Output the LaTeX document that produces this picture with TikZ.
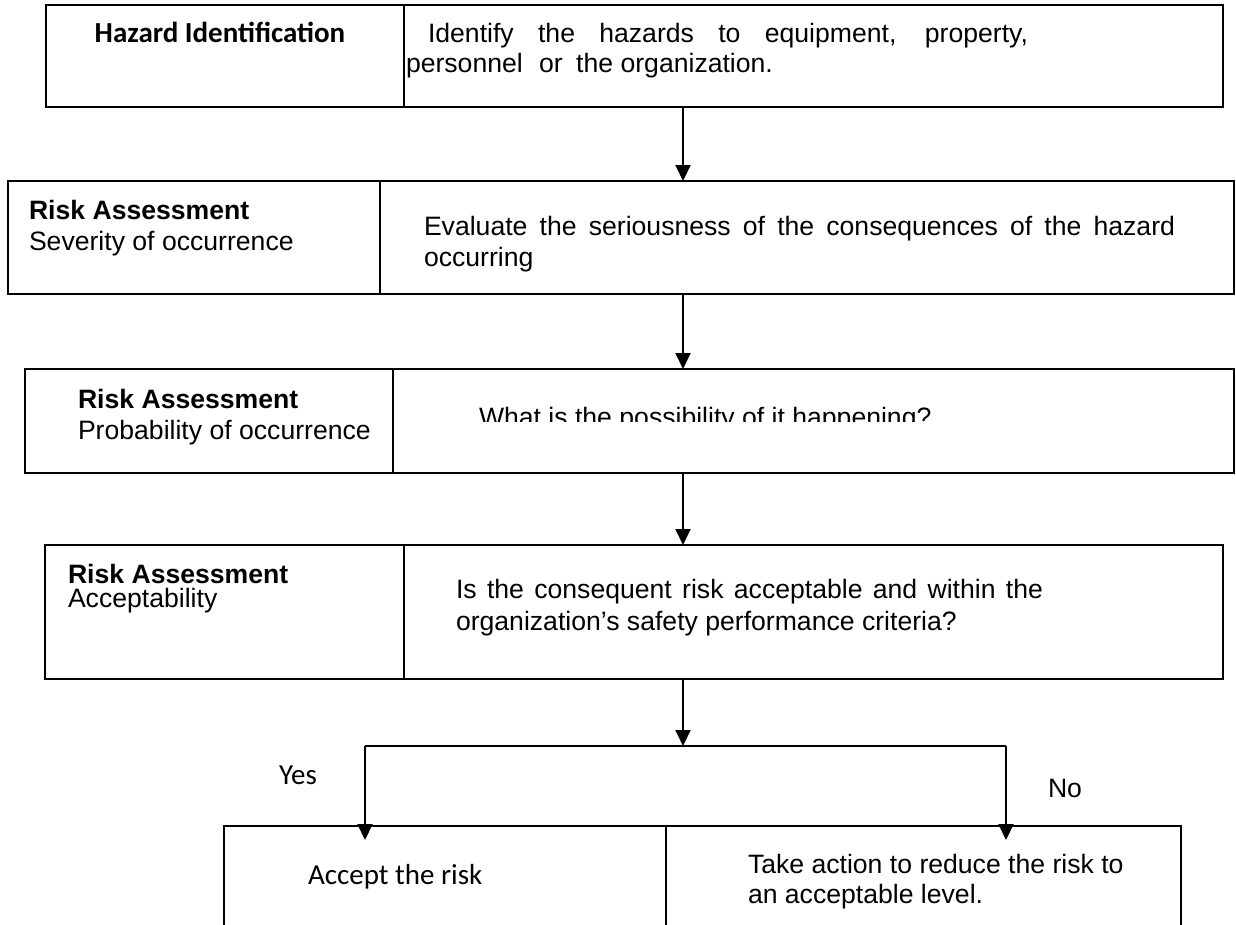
\documentclass[tikz,border=0pt]{standalone}
\usepackage{fontspec}
\setmainfont{Liberation Sans}
\newfontfamily\calfont{Carlito}
\usetikzlibrary{arrows.meta}
\begin{document}
\begin{tikzpicture}[x=1pt,y=-1pt,
  cell/.style={draw, line width=2.2pt, inner sep=0pt, outer sep=0pt, anchor=north west},
  txt/.style={inner sep=0pt, outer sep=0pt, anchor=base west, font=\fontsize{26.6}{31}\selectfont},
  btxt/.style={txt, font=\fontsize{26.6}{31}\selectfont\bfseries},
  ctxt/.style={inner sep=0pt, outer sep=0pt, anchor=base west, font=\fontsize{29}{34}\selectfont\calfont},
  arr/.style={line width=2pt, -{Triangle[width=15pt,length=16pt]}},
  link/.style={line width=2pt}]
\useasboundingbox (0,0) rectangle (1236,924);
\clip (0,0) rectangle (1236,924);
\fill[white] (0,0) rectangle (1236,924);
% axis coordinate for the vertical arrows
\coordinate (ax) at (683,0);
\coordinate (yx) at (365,0);
\coordinate (nx) at (1006,0);
% box 1
\node[cell, minimum width=358pt, minimum height=102pt] (b1l) at (46,5) {};
\node[cell, minimum width=819pt, minimum height=102pt] (b1r) at (404,5) {};
\node[inner sep=0pt, anchor=base, font=\fontsize{29}{34}\selectfont\calfont\bfseries] (t1l) at (220,42) {Hazard Identification};
\node[txt] (t1a) at (428,42) {\makebox[600pt][s]{Identify the hazards to equipment, property,}};
\node[txt] (t1b) at (406,72) {personnel\hspace{9pt} or\hspace{6pt} the organization.};
% box 2
\node[cell, minimum width=372pt, minimum height=113pt] (b2l) at (8,181) {};
\node[cell, minimum width=854pt, minimum height=113pt] (b2r) at (380,181) {};
\node[btxt] (t2a) at (29,219) {Risk Assessment};
\node[txt] (t2b) at (29,250) {Severity of occurrence};
\node[txt] (t2c) at (424,235) {\makebox[751pt][s]{Evaluate the seriousness of the consequences of the hazard}};
\node[txt] (t2d) at (424,266) {occurring};
% box 3
\node[cell, minimum width=368pt, minimum height=104pt] (b3l) at (25,369) {};
\node[cell, minimum width=841pt, minimum height=104pt] (b3r) at (393,369) {};
\node[btxt] (t3a) at (78,408) {Risk Assessment};
\node[txt] (t3b) at (78,439) {Probability of occurrence};
\begin{scope}
\clip (400,380) rectangle (1200,421);
\node[txt] (t3c) at (479,426) {What is the possibility of it happening?};
\end{scope}
% box 4
\node[cell, minimum width=359pt, minimum height=134pt] (b4l) at (45,545) {};
\node[cell, minimum width=819pt, minimum height=134pt] (b4r) at (404,545) {};
\node[btxt] (t4a) at (68,583) {Risk Assessment};
\node[txt] (t4b) at (68,607) {Acceptability};
\node[txt] (t4c) at (456,598) {\makebox[587pt][s]{Is the consequent risk acceptable and within the}};
\node[txt] (t4d) at (456,630) {organization’s safety performance criteria?};
% box 5
\node[cell, minimum width=442pt, minimum height=120pt] (b5l) at (224,826) {};
\node[cell, minimum width=515pt, minimum height=120pt] (b5r) at (666,826) {};
\node[ctxt] (t5a) at (308,884) {Accept the risk};
\node[txt] (t5b) at (748,873) {Take action to reduce the risk to};
\node[txt] (t5c) at (748,903) {an acceptable level.};
% branch labels
\node[ctxt] (yes) at (279,784) {Yes};
\node[txt] (no) at (1048,797) {No};
% connectors
\coordinate (br) at (683,746);
\coordinate (brl) at (365,746);
\coordinate (brr) at (1006,746);
\draw[arr] (b1r.south -| ax) -- (b2r.north -| ax);
\draw[arr] (b2r.south -| ax) -- (b3r.north -| ax);
\draw[arr] (b3r.south -| ax) -- (b4r.north -| ax);
\draw[arr] (b4r.south -| ax) -- (br);
\draw[link] (brl) -- (brr);
\draw[arr] (brl) -- ([yshift=-14pt]b5l.north -| yx);
\draw[arr] (brr) -- ([yshift=-14pt]b5r.north -| nx);
\end{tikzpicture}
\end{document}
